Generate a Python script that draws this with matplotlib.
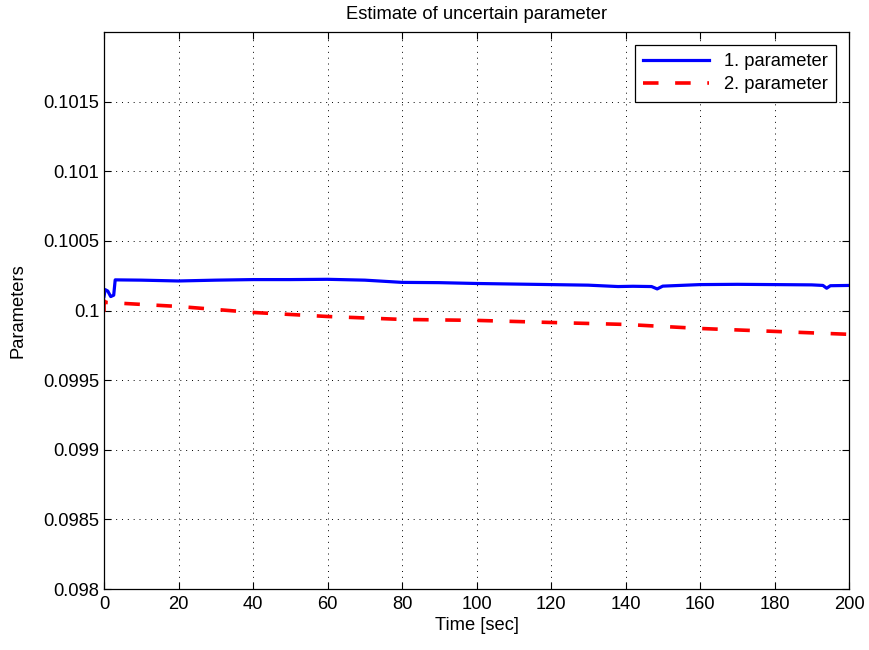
import numpy as np
import matplotlib.pyplot as plt

# values
t_p1 = [0, 0.3, 1.0, 1.8, 2.6, 3.0, 10, 20, 30, 40, 50, 60, 70, 80, 90, 100,
        110, 120, 130, 138, 142, 147, 148.5, 150, 160, 170, 180, 190, 193,
        194, 195, 200]
p1 = [0.10010, 0.10015, 0.10014, 0.10010, 0.10011, 0.10022, 0.100218,
      0.100212, 0.100218, 0.100222, 0.100222, 0.100224, 0.100218, 0.100202,
      0.100200, 0.100194, 0.100190, 0.100186, 0.100182, 0.100172, 0.100174,
      0.100172, 0.100155, 0.100175, 0.100186, 0.100188, 0.100186, 0.100184,
      0.100180, 0.100160, 0.100178, 0.100180]

t_p2 = [0, 0, 0.5, 20, 40, 60, 80, 100, 120, 140, 160, 180, 200]
p2 = [0.09999, 0.10007, 0.100058, 0.100029, 0.099986, 0.099957, 0.099936,
      0.099929, 0.099914, 0.099900, 0.099871, 0.099850, 0.099829]

yticks = [0.098, 0.0985, 0.099, 0.0995, 0.1, 0.1005, 0.101, 0.1015]
ytick_labels = ['0.098', '0.0985', '0.099', '0.0995', '0.1', '0.1005',
                '0.101', '0.1015']
xticks = [0, 20, 40, 60, 80, 100, 120, 140, 160, 180, 200]

plt.rcParams['font.family'] = ['Liberation Sans', 'DejaVu Sans']
FS = 13.2

fig = plt.figure(figsize=(8.69, 6.5), dpi=100)
ax = fig.add_axes([0.1197, 0.0938, 0.977 - 0.1197, 0.9508 - 0.0938])

ax.plot(t_p1, p1, color=(0, 0, 1), lw=2.3, label='1. parameter')
l2, = ax.plot(t_p2, p2, color=(1, 0, 0), lw=2.6, ls='--',
              label='2. parameter')
l2.set_dashes((4.3, 4.6))

ax.set_xlim(0, 200)
ax.set_ylim(0.098, 0.102)
ax.set_xticks(xticks)
ax.set_xticklabels([str(x) for x in xticks])
ax.set_yticks(yticks)
ax.set_yticklabels(ytick_labels)
ax.tick_params(direction='in', labelsize=FS, length=5, width=0.8,
               top=True, right=True)
ax.tick_params(axis='x', pad=5)
ax.grid(True, color='black', ls=(0, (1, 5)), lw=0.7)
for s in ax.spines.values():
    s.set_linewidth(0.9)

ax.set_title('Estimate of uncertain parameter', fontsize=FS, pad=9)
ax.set_xlabel('Time [sec]', fontsize=FS, labelpad=3)
ax.set_ylabel('Parameters', fontsize=FS, labelpad=12)

leg = ax.legend(loc='upper right', fontsize=FS, fancybox=False,
                framealpha=1, edgecolor='black', handlelength=3.6,
                borderaxespad=0.7, borderpad=0.45, labelspacing=0.35)
leg.get_frame().set_linewidth(0.9)

fig.savefig('out.png', dpi=100)
